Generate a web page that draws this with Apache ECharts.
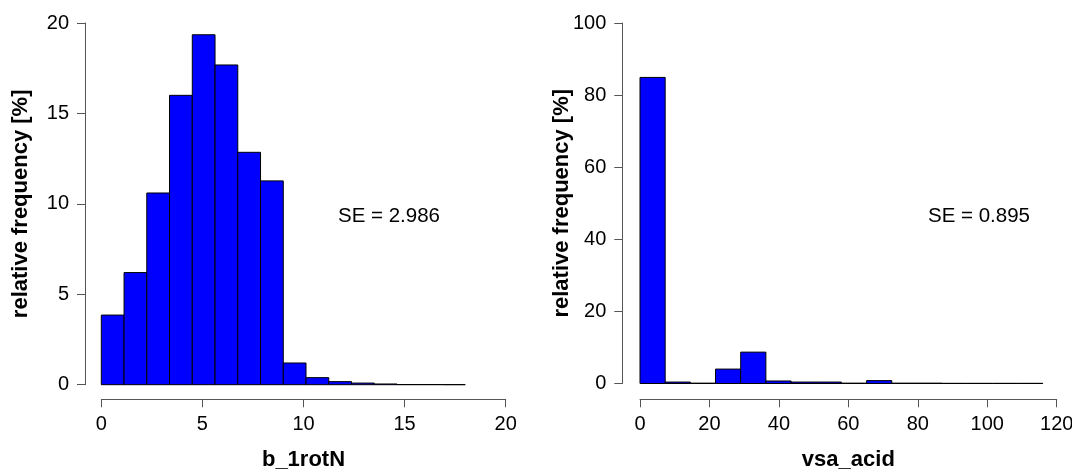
<!DOCTYPE html>
<html>
<head>
<meta charset="utf-8">
<script src="https://cdn.jsdelivr.net/npm/echarts@6/dist/echarts.min.js"></script>
<style>
  html, body { margin: 0; padding: 0; background: #ffffff; }
  #chart { width: 1072px; height: 473px; }
</style>
</head>
<body>
<div id="chart"></div>
<script>
// Histogram of b_1rotN: bin edges and relative frequency (%) per bin
const rotBreaks = [0, 1.125, 2.25, 3.375, 4.5, 5.625, 6.75, 7.875, 9, 10.125, 11.25, 12.375, 13.5, 14.625, 15.75, 16.875, 18];
const rotFreq = [3.85, 6.2, 10.6, 16.0, 19.35, 17.68, 12.85, 11.27, 1.2, 0.39, 0.17, 0.09, 0.04, 0.01, 0.01, 0.005];
const rotTicksX = [0, 5, 10, 15, 20];
const rotTicksY = [0, 5, 10, 15, 20];

// Histogram of vsa_acid: bin edges and relative frequency (%) per bin
const acidBreaks = [0, 7.25, 14.5, 21.75, 29, 36.25, 43.5, 50.75, 58, 65.25, 72.5, 79.75, 87, 94.25, 101.5, 108.75, 116];
const acidFreq = [84.9, 0.4, 0.1, 4.0, 8.7, 0.7, 0.4, 0.4, 0.1, 0.8, 0.1, 0.1, 0.05, 0.05, 0.05, 0.05];
const acidTicksX = [0, 20, 40, 60, 80, 100, 120];
const acidTicksY = [0, 20, 40, 60, 80, 100];

const seLabels = ['SE = 2.986', 'SE = 0.895'];
const xNames = ['b_1rotN', 'vsa_acid'];
const yName = 'relative frequency [%]';

const FONT = '"Liberation Sans", Arial, Helvetica, sans-serif';
const AXIS_COLOR = '#555555';

function binData(breaks, freq) {
  return freq.map((v, i) => [breaks[i], breaks[i + 1], v]);
}

function histItem(params, api) {
  const p0 = api.coord([api.value(0), 0]);
  const p1 = api.coord([api.value(1), api.value(2)]);
  return {
    type: 'rect',
    shape: { x: p0[0], y: p1[1], width: p1[0] - p0[0], height: p0[1] - p1[1] },
    style: { fill: '#0000ff', stroke: '#000000', lineWidth: 1 }
  };
}

function xAxisFor(idx, ticks, offset) {
  return {
    type: 'value', gridIndex: idx,
    min: ticks[0], max: ticks[ticks.length - 1],
    interval: ticks[1] - ticks[0],
    offset: offset,
    name: xNames[idx], nameLocation: 'middle', nameGap: 50, nameMoveOverlap: false,
    nameTextStyle: { fontFamily: FONT, fontSize: 22, fontWeight: 'bold', color: '#000' },
    axisLine: { show: true, onZero: false, lineStyle: { color: AXIS_COLOR, width: 1 } },
    axisTick: { show: true, length: 8, lineStyle: { color: AXIS_COLOR, width: 1 } },
    axisLabel: { fontFamily: FONT, fontSize: 20, color: '#000', margin: 15 },
    splitLine: { show: false }
  };
}

function yAxisFor(idx, ticks, offset, gap) {
  return {
    type: 'value', gridIndex: idx,
    min: ticks[0], max: ticks[ticks.length - 1],
    interval: ticks[1] - ticks[0],
    offset: offset,
    name: yName, nameLocation: 'middle', nameGap: gap, nameRotate: 90, nameMoveOverlap: false,
    nameTextStyle: { fontFamily: FONT, fontSize: 22, fontWeight: 'bold', color: '#000' },
    axisLine: { show: true, onZero: false, lineStyle: { color: AXIS_COLOR, width: 1 } },
    axisTick: { show: true, length: 8, lineStyle: { color: AXIS_COLOR, width: 1 } },
    axisLabel: { fontFamily: FONT, fontSize: 20, color: '#000', margin: 16 },
    splitLine: { show: false }
  };
}

const chart = echarts.init(document.getElementById('chart'), null, { renderer: 'canvas' });

chart.setOption({
  animation: false,
  backgroundColor: '#ffffff',
  grid: [
    { left: 101.3, width: 404.4, top: 23, height: 361.7, containLabel: false, outerBoundsMode: 'none' },
    { left: 640, width: 416.7, top: 23, height: 360.5, containLabel: false, outerBoundsMode: 'none' }
  ],
  xAxis: [
    xAxisFor(0, rotTicksX, 14.6),
    xAxisFor(1, acidTicksX, 15.8)
  ],
  yAxis: [
    yAxisFor(0, rotTicksY, 16.3, 53),
    yAxisFor(1, acidTicksY, 17.7, 49)
  ],
  series: [
    {
      type: 'custom', xAxisIndex: 0, yAxisIndex: 0,
      renderItem: histItem, encode: { x: [0, 1], y: 2 },
      data: binData(rotBreaks, rotFreq), silent: true
    },
    {
      type: 'custom', xAxisIndex: 1, yAxisIndex: 1,
      renderItem: histItem, encode: { x: [0, 1], y: 2 },
      data: binData(acidBreaks, acidFreq), silent: true
    }
  ],
  graphic: [
    { type: 'text', left: 338, top: 206, style: { text: seLabels[0], font: '20.5px ' + FONT, fill: '#000' } },
    { type: 'text', left: 928, top: 206, style: { text: seLabels[1], font: '20.5px ' + FONT, fill: '#000' } }
  ]
});
</script>
</body>
</html>
